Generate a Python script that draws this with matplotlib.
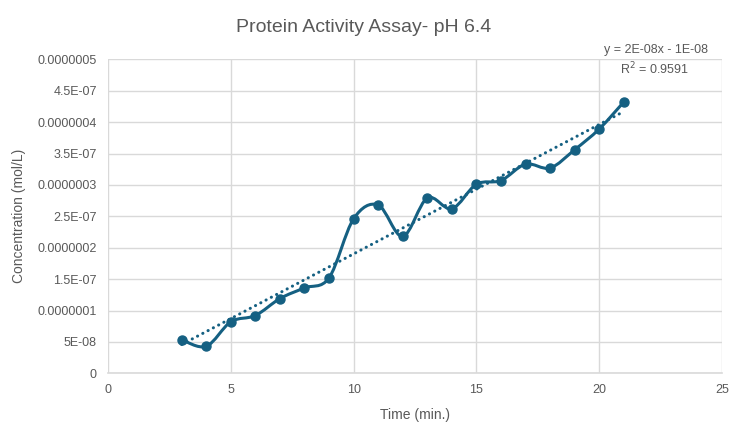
import numpy as np
import matplotlib
matplotlib.use("Agg")
import matplotlib.pyplot as plt
from matplotlib.path import Path
from matplotlib.patches import PathPatch

plt.rcParams['font.family'] = ['Liberation Sans Narrow', 'Liberation Sans', 'DejaVu Sans']

time_min = [3, 4, 5, 6, 7, 8, 9, 10, 11, 12, 13, 14, 15, 16, 17, 18, 19, 20, 21]
concentration = [5.35e-8, 4.3e-8, 8.2e-8, 9.2e-8, 1.19e-7, 1.36e-7, 1.52e-7, 2.46e-7, 2.68e-7,
                 2.18e-7, 2.79e-7, 2.62e-7, 3.01e-7, 3.07e-7, 3.33e-7, 3.27e-7, 3.56e-7, 3.89e-7, 4.32e-7]
x_ticks = [0, 5, 10, 15, 20, 25]
y_ticks = [0, 5e-8, 1e-7, 1.5e-7, 2e-7, 2.5e-7, 3e-7, 3.5e-7, 4e-7, 4.5e-7, 5e-7]
y_tick_labels = ["0", "5E-08", "0.0000001", "1.5E-07", "0.0000002", "2.5E-07",
                 "0.0000003", "3.5E-07", "0.0000004", "4.5E-07", "0.0000005"]
title = "Protein Activity Assay- pH 6.4"
equation_text = "y = 2E-08x - 1E-08"
r2_text = "R$^2$ = 0.9591"

color = "#156082"
text_color = "#595959"
grid_color = "#d9d9d9"

fig = plt.figure(figsize=(7.44, 4.30), dpi=100)
ax = fig.add_axes([108/744, 1-373.3/430, (722-108)/744, (373.3-59.3)/430])

ax.set_xlim(0, 25)
ax.set_ylim(0, 5e-7)
ax.set_xticks(x_ticks)
ax.set_xticklabels([str(t) for t in x_ticks])
ax.set_yticks(y_ticks)
ax.set_yticklabels(y_tick_labels)
ax.tick_params(length=0, colors=text_color, labelsize=9, pad=8)
ax.grid(True, color=grid_color, linewidth=1)
ax.set_axisbelow(True)
for s in ['top', 'right', 'left']:
    ax.spines[s].set_visible(False)
ax.spines['bottom'].set_color(grid_color)
ax.spines['bottom'].set_linewidth(1.2)

# smoothed line (Catmull-Rom via cubic Bezier)
x = np.array(time_min, dtype=float)
y = np.array(concentration, dtype=float)
pts = np.column_stack([x, y])
verts = [tuple(pts[0])]
codes = [Path.MOVETO]
n = len(pts)
for i in range(n - 1):
    p0 = pts[i - 1] if i > 0 else pts[i]
    p1 = pts[i]
    p2 = pts[i + 1]
    p3 = pts[i + 2] if i + 2 < n else pts[i + 1]
    c1 = p1 + (p2 - p0) / 6.0
    c2 = p2 - (p3 - p1) / 6.0
    verts += [tuple(c1), tuple(c2), tuple(p2)]
    codes += [Path.CURVE4] * 3
patch = PathPatch(Path(verts, codes), facecolor='none', edgecolor=color, linewidth=2.2,
                  capstyle='round', joinstyle='round', zorder=3)
ax.add_patch(patch)
ax.plot(x, y, linestyle='none', marker='o', markersize=6.5, color=color, zorder=4)

# linear trendline
m, b = np.polyfit(x, y, 1)
xt = np.array([x.min(), x.max()])
ax.plot(xt, m * xt + b, linestyle=(0, (0.05, 1.9)), dash_capstyle='round', linewidth=2.2,
        color=color, zorder=3)

fig.text(364/744, 1-27/430, title, ha='center', va='center', fontsize=14, color=text_color)
fig.text(656/744, 1-50/430, equation_text, ha='center', va='center', fontsize=9, color=text_color)
fig.text(654/744, 1-69/430, r2_text, ha='center', va='center', fontsize=9, color=text_color)
ax.set_xlabel("Time (min.)", fontsize=10, color=text_color, labelpad=8)
ax.set_ylabel("Concentration (mol/L)", fontsize=10, color=text_color, labelpad=8)

fig.savefig("out.png", dpi=100)
